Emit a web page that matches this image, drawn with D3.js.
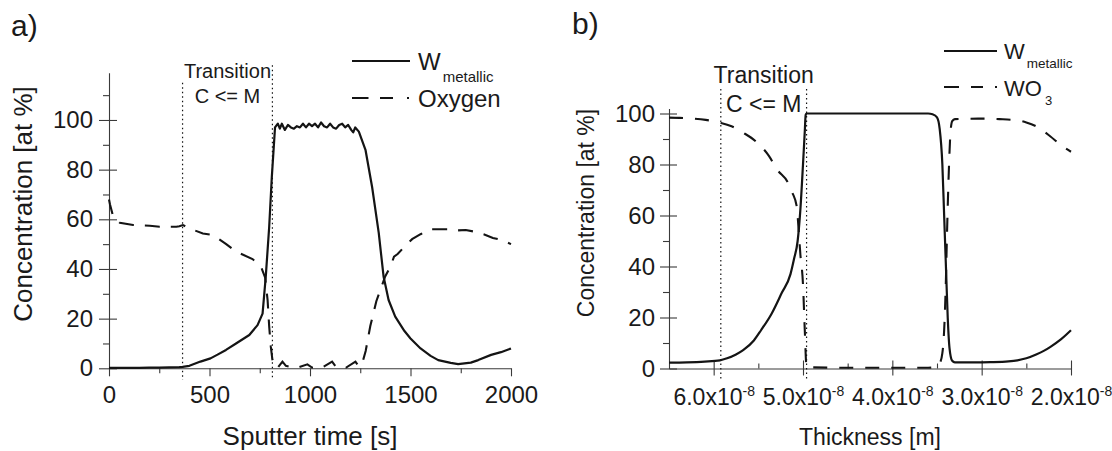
<!DOCTYPE html>
<html><head><meta charset="utf-8">
<script src="https://cdn.jsdelivr.net/npm/d3@7"></script>
<style>
html,body{margin:0;padding:0;background:#fff;}
svg{display:block;font-family:"Liberation Sans",Arial,Helvetica,sans-serif;}
</style></head><body>
<svg id="c" width="1112" height="451"></svg>
<script>
// ---------------- DATA ----------------
// Panel a) : sputter time [s] vs concentration [at %]
const timeW = [0,50,100,150,200,250,300,350,366,400,455,505,540,582,632,698,739,764,780,797,810,826,840,850,860,875,890,905,920,935,950,965,980,995,1010,1025,1040,1055,1070,1085,1100,1115,1130,1145,1160,1175,1190,1205,1215,1225,1243,1276,1309,1342,1366,1391,1424,1470,1500,1550,1600,1638,1700,1737,1800,1837,1901,1950,2000];
const wMetallicA = [0.2,0.2,0.2,0.2,0.3,0.3,0.4,0.5,0.6,1.0,2.7,4,5.5,7.4,10,13.4,17.4,22,37,57,77,97,98.5,96.5,98.5,96,98,97,96.5,97.5,97,98.5,97,98.5,97.5,98.5,97,99,97.5,97,98.5,97,96.5,98,98.5,97,98,96,95,97,95.3,88,73,54.5,37,27.5,20.8,15,12,8,5,3.3,2.2,1.7,2.3,3.3,5.4,6.5,8];
const timeO = [0,5,21,54,120,203,252,335,350,368,401,467,516,530,583,632,714,756,777,789,797,805,813,822,840,863,880,896,940,987,1010,1060,1110,1130,1180,1226,1243,1260,1277,1300,1330,1374,1401,1418,1436,1470,1508,1550,1597,1650,1686,1730,1775,1820,1864,1910,1953,2000];
const oxygenA = [68,66,61,58.6,57.7,57.4,57,57,57.2,57.7,56.3,54.3,53.7,53,50,47,44,41,36.5,27.5,16.8,8.7,3.4,0.7,0.3,2.7,1,0.7,0.3,1.6,0.3,0.3,2.7,0.5,0.3,2.7,0.7,2,7,17,27,37,41,45,46,49,52,54,56,56,56,55.5,55.7,55,54,52.5,51.7,50];
const xTicksA = [0,500,1000,1500,2000];
const xMinorA = [250,750,1250,1750];
const yTicksA = [0,20,40,60,80,100];
const yMinorA = [10,30,50,70,90,110];
const transitionA = [366,813];

// Panel b) : thickness [x1e-8 m] vs concentration [at %]
const thickW = [6.5,6.3,6.1,5.93,5.85,5.75,5.67,5.55,5.47,5.35,5.24,5.14,5.1,5.06,5.03,5.0,4.98,4.97,4.96,3.6,3.55,3.5,3.47,3.44,3.42,3.4,3.38,3.36,3.33,3.3,3.1,2.9,2.7,2.6,2.5,2.39,2.3,2.23,2.11,2.0];
const wMetallicB = [2.3,2.4,2.7,3.2,4,5.5,7.2,11,15,21.6,29.5,37,43,50,62,80,93,99.5,100,100,99.7,98.5,94,80,60,40,20,8,3,2.4,2.4,2.5,2.8,3.2,4,5.5,7,8.5,11.5,15];
const thickO = [6.5,6.38,6.22,6.09,5.93,5.8,5.67,5.51,5.38,5.29,5.17,5.12,5.07,5.05,5.03,5.0,4.98,4.96,4.5,4.0,3.6,3.52,3.47,3.44,3.42,3.4,3.39,3.37,3.35,3.33,3.3,3.0,2.8,2.6,2.5,2.39,2.23,2.11,2.0];
const wo3B = [98.4,98.3,98,97.5,96.4,95,92.5,88.5,83.3,78,73,69,63.5,55,45,33,15,0.5,0.3,0.3,0.3,0.6,2,6,15,35,50,75,92,97,97.8,98,97.8,97.3,96.5,95,91,87.5,85];
const xTicksB = [6.0,5.0,4.0,3.0,2.0];
const xTickMantB = ["6.0x10","5.0x10","4.0x10","3.0x10","2.0x10"];
const xTickExpB = "-8";
const xMinorB = [5.5,4.5,3.5,2.5];
const yTicksB = [0,20,40,60,80,100];
const yMinorB = [10,30,50,70,90];
const transitionB = [5.92,4.96];

// ---------------- DRAW ----------------
const svg = d3.select("#c");
svg.append("rect").attr("width",1112).attr("height",451).attr("fill","#fff");
const INK = "#141414", AX = "#3a3a3a", TXT = "#1a1a1a";

function panel(o){
  const g = svg.append("g");
  const x = o.x, y = o.y;
  g.append("g").attr("transform",`translate(0,${y.range()[0]})`)
    .call(d3.axisBottom(x).tickValues(o.xMinor).tickFormat("").tickSizeInner(o.xMinorSize).tickSizeOuter(0))
    .call(s=>s.select(".domain").remove());
  g.append("g").attr("transform",`translate(${x.range()[0]},0)`)
    .call(d3.axisLeft(y).tickValues(o.yMinor).tickFormat("").tickSizeInner(6).tickSizeOuter(0))
    .call(s=>s.select(".domain").remove());
  const gx = g.append("g").attr("transform",`translate(0,${y.range()[0]})`)
    .call(d3.axisBottom(x).tickValues(o.xTicks).tickSizeInner(o.xTickDown).tickSizeOuter(0).tickPadding(o.xPad).tickFormat(o.xFmt||d3.format("d")));
  gx.selectAll(".tick line").attr("y1",-o.xTickUp);
  const gy = g.append("g").attr("transform",`translate(${x.range()[0]},0)`)
    .call(d3.axisLeft(y).tickValues(o.yTicks).tickSizeInner(o.yTickOut).tickSizeOuter(0).tickPadding(o.yPad));
  gy.selectAll(".tick line").attr("x1",8);
  [gx,gy].forEach(a=>{
    a.select(".domain").attr("stroke",AX).attr("stroke-width",1.1);
    a.selectAll("text").attr("fill",TXT).attr("font-family","Liberation Sans, Arial, sans-serif");
  });
  g.selectAll(".tick line").attr("stroke",AX).attr("stroke-width",1.1);
  gx.selectAll("text").attr("font-size",o.xFont);
  gy.selectAll("text").attr("font-size",o.yFont);
  return {g,gx,gy};
}

// ---- Panel a
const xA = d3.scaleLinear().domain([0,2000]).range([109,511]);
const yA = d3.scaleLinear().domain([0,119]).range([368.3,72.8]);
const pA = panel({x:xA,y:yA,xTicks:xTicksA,xMinor:xMinorA,yTicks:yTicksA,yMinor:yMinorA,
  xMinorSize:5,xTickDown:8,xTickUp:0,xPad:10,yTickOut:10,yPad:6,xFont:24,yFont:24});

svg.append("line").attr("x1",xA(transitionA[0])).attr("x2",xA(transitionA[0]))
  .attr("y1",yA(115)).attr("y2",yA(-4.7)).attr("stroke",INK).attr("stroke-width",1.2).attr("stroke-dasharray","1.5,3");
svg.append("line").attr("x1",xA(transitionA[1])).attr("x2",xA(transitionA[1]))
  .attr("y1",yA(122)).attr("y2",yA(-4.7)).attr("stroke",INK).attr("stroke-width",1.2).attr("stroke-dasharray","1.5,3");
const midA = (xA(transitionA[0])+xA(transitionA[1]))/2;
svg.append("text").attr("x",midA).attr("y",78).attr("text-anchor","middle").attr("font-size",20).attr("fill",TXT).text("Transition");
svg.append("text").attr("x",midA).attr("y",103).attr("text-anchor","middle").attr("font-size",20).attr("fill",TXT).text("C <= M");

const lineA = (xs)=>d3.line().x((d,i)=>xA(xs[i])).y(d=>yA(d));
svg.append("path").attr("d",lineA(timeO)(oxygenA)).attr("fill","none").attr("stroke",INK).attr("stroke-width",2.1).attr("stroke-dasharray","15,11");
svg.append("path").attr("d",lineA(timeW)(wMetallicA)).attr("fill","none").attr("stroke",INK).attr("stroke-width",2.2).attr("stroke-linejoin","round");

svg.append("text").attr("x",11).attr("y",36).attr("font-size",30).attr("fill",TXT).text("a)");
svg.append("text").attr("x",(xA.range()[0]+xA.range()[1])/2).attr("y",445).attr("text-anchor","middle").attr("font-size",26).attr("fill",TXT).text("Sputter time [s]");
svg.append("text").attr("transform","translate(32,204) rotate(-90)").attr("text-anchor","middle").attr("font-size",26).attr("fill",TXT).text("Concentration [at %]");

svg.append("line").attr("x1",352).attr("x2",410).attr("y1",61).attr("y2",61).attr("stroke",INK).attr("stroke-width",2.2);
const tA1 = svg.append("text").attr("x",418).attr("y",70).attr("font-size",24).attr("fill",TXT);
tA1.append("tspan").text("W");
tA1.append("tspan").attr("font-size",15).attr("dy",12).attr("dx",2).text("metallic");
svg.append("line").attr("x1",352).attr("x2",410).attr("y1",98).attr("y2",98).attr("stroke",INK).attr("stroke-width",2.1).attr("stroke-dasharray","16.5,11.5,13,14,2,40");
svg.append("text").attr("x",418).attr("y",107).attr("font-size",24).attr("fill",TXT).text("Oxygen");

// ---- Panel b
const xB = d3.scaleLinear().domain([6.5,2.0]).range([669,1071]);
const yB = d3.scaleLinear().domain([0,102]).range([368.5,108.4]);
const pB = panel({x:xB,y:yB,xTicks:xTicksB,xMinor:xMinorB,yTicks:yTicksB,yMinor:yMinorB,
  xMinorSize:-5,xTickDown:7,xTickUp:8,xPad:13,yTickOut:9,yPad:5,xFont:23,yFont:24,xFmt:()=>""});
pB.gx.selectAll(".tick text").each(function(d,i){
  const t = d3.select(this);
  t.text(null);
  t.append("tspan").text(xTickMantB[i]);
  t.append("tspan").attr("font-size",14).attr("dy",-9).text(xTickExpB);
});

svg.append("line").attr("x1",xB(transitionB[0])).attr("x2",xB(transitionB[0]))
  .attr("y1",yB(109.6)).attr("y2",yB(-4.5)).attr("stroke",INK).attr("stroke-width",1.2).attr("stroke-dasharray","1.5,3");
svg.append("line").attr("x1",xB(transitionB[1])).attr("x2",xB(transitionB[1]))
  .attr("y1",yB(109.6)).attr("y2",yB(-4.5)).attr("stroke",INK).attr("stroke-width",1.2).attr("stroke-dasharray","1.5,3");
const midB = (xB(transitionB[0])+xB(transitionB[1]))/2;
svg.append("text").attr("x",midB).attr("y",83).attr("text-anchor","middle").attr("font-size",23).attr("fill",TXT).text("Transition");
svg.append("text").attr("x",midB).attr("y",112).attr("text-anchor","middle").attr("font-size",23).attr("fill",TXT).text("C <= M");

const lineB = (xs)=>d3.line().x((d,i)=>xB(xs[i])).y(d=>yB(d)).curve(d3.curveMonotoneX);
svg.append("path").attr("d",lineB(thickO)(wo3B)).attr("fill","none").attr("stroke",INK).attr("stroke-width",2.1).attr("stroke-dasharray","14,12");
svg.append("path").attr("d",lineB(thickW)(wMetallicB)).attr("fill","none").attr("stroke",INK).attr("stroke-width",2.2).attr("stroke-linejoin","round");

svg.append("text").attr("x",572).attr("y",34).attr("font-size",30).attr("fill",TXT).text("b)");
svg.append("text").attr("x",(xB.range()[0]+xB.range()[1])/2).attr("y",445).attr("text-anchor","middle").attr("font-size",23).attr("fill",TXT).text("Thickness [m]");
svg.append("text").attr("transform","translate(594,213) rotate(-90)").attr("text-anchor","middle").attr("font-size",23).attr("fill",TXT).text("Concentration [at %]");

svg.append("line").attr("x1",944).attr("x2",997).attr("y1",51).attr("y2",51).attr("stroke",INK).attr("stroke-width",2.2);
const tB1 = svg.append("text").attr("x",1004).attr("y",59).attr("font-size",22).attr("fill",TXT);
tB1.append("tspan").text("W");
tB1.append("tspan").attr("font-size",13.5).attr("dy",9).attr("dx",2).text("metallic");
svg.append("line").attr("x1",944).attr("x2",997).attr("y1",87).attr("y2",87).attr("stroke",INK).attr("stroke-width",2.1).attr("stroke-dasharray","15,12,12,12,2,40");
const tB2 = svg.append("text").attr("x",1004).attr("y",96).attr("font-size",22).attr("fill",TXT);
tB2.append("tspan").text("WO");
tB2.append("tspan").attr("font-size",13).attr("dy",9).attr("dx",3).text("3");
</script>
</body></html>
